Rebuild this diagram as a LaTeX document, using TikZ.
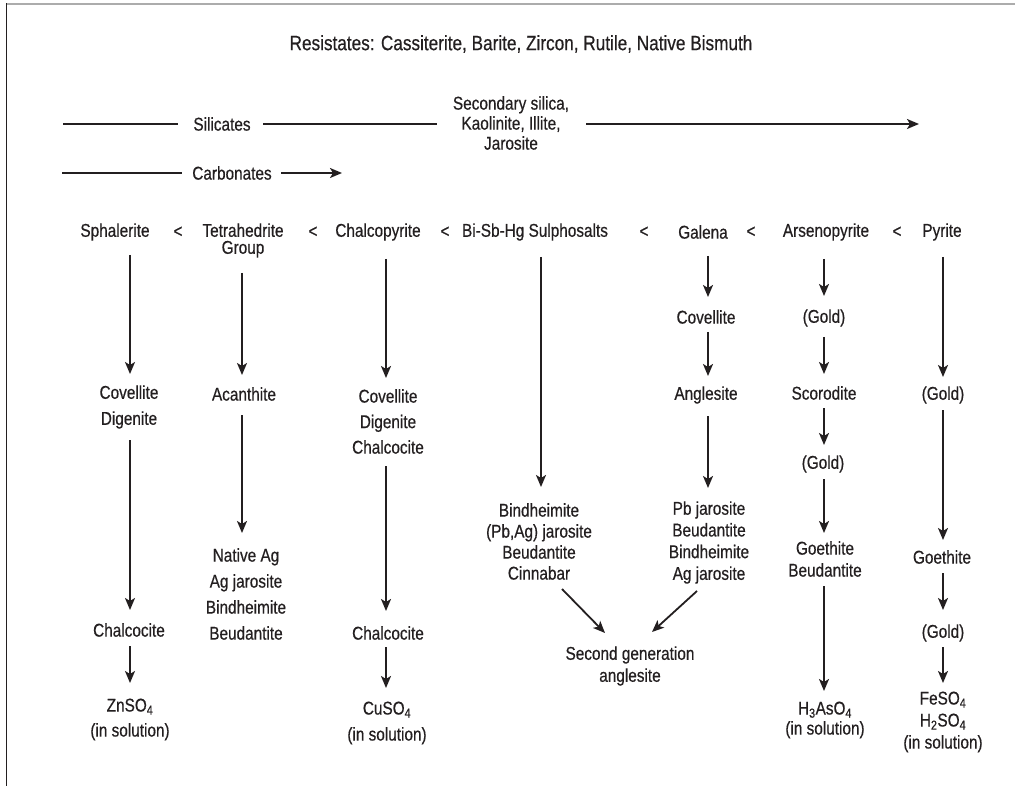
\documentclass[tikz,border=0pt]{standalone}
\usepackage{fontspec}
\setmainfont{Liberation Sans}[FakeStretch=0.83,FakeBold=0.5]
\usetikzlibrary{arrows.meta}
\definecolor{ink}{HTML}{231F20}
\begin{document}
\begin{tikzpicture}[x=1pt,y=-1pt,
  lbl/.style={inner sep=0pt, align=center, text=ink, font=\fontsize{18.5}{21}\selectfont},
  lsp/.style={font=\fontsize{18.5}{#1}\selectfont},
  arr/.style={draw=ink, line width=1.8pt, -{Stealth[length=12pt,width=10pt,inset=3pt]}},
  ln/.style={draw=ink, line width=1.8pt}]
\useasboundingbox (0,0) rectangle (1015,786);
% frame
\draw[gray!65, line width=1.6pt] (6,4) -- (1015,4);
\draw[ink, line width=1.3pt] (6.5,3.5) -- (6.5,786);

% title
\node[lbl, font=\fontsize{20.7}{24}\selectfont] (title) at (521,44) {Resistates: Cassiterite, Barite, Zircon, Rutile, Native Bismuth};

% silicates / carbonates
\coordinate (silL) at (63,124);
\coordinate (silR) at (919,124);
\node[lbl] (sil) at (222,124) {Silicates};
\node[lbl, lsp=20] (sec) at (511,123) {Secondary silica,\\Kaolinite, Illite,\\Jarosite};
\draw[ln, shorten >=44pt] (silL) -- (sil.center);
\draw[ln, shorten <=41pt, shorten >=74pt] (sil.center) -- (sec.center |- silL);
\draw[arr, shorten <=75pt] (sec.center |- silR) -- (silR);

\coordinate (carL) at (62,173);
\coordinate (carR) at (342,173);
\node[lbl] (carb) at (232,173) {Carbonates};
\draw[ln, shorten >=50pt] (carL) -- (carb.center);
\draw[arr, shorten <=49pt] (carb.center) -- (carR);

% primary sulphides
\node[lbl] (sph) at (115,232) {Sphalerite};
\node[lbl] (lt1) at (178,232) {<};
\node[lbl, lsp=17] (tet) at (243,240.5) {Tetrahedrite\\Group};
\node[lbl] (lt2) at (313,232) {<};
\node[lbl] (chp) at (378,232) {Chalcopyrite};
\node[lbl] (lt3) at (445,232) {<};
\node[lbl] (bi) at (535,232) {Bi-Sb-Hg Sulphosalts};
\node[lbl] (lt4) at (644,232) {<};
\node[lbl] (gal) at (703,232) {Galena};
\node[lbl] (lt5) at (751,232) {<};
\node[lbl] (ars) at (826,232) {Arsenopyrite};
\node[lbl] (lt6) at (897,232) {<};
\node[lbl] (pyr) at (942,232) {Pyrite};

% column x references
\coordinate (c1) at (130,0);
\coordinate (c2) at (242,0);
\coordinate (c3) at (386,0);
\coordinate (c4) at (541,0);
\coordinate (c5) at (708,0);
\coordinate (c6) at (824,0);
\coordinate (c7) at (943,0);

% column 1
\node[lbl, lsp=26] (cov1) at (129,407) {Covellite\\Digenite};
\node[lbl] (chc1) at (129,630) {Chalcocite};
\node[lbl, lsp=25] (zn1) at (130,719.5) {ZnSO\textsubscript{4}\\(in solution)};
\draw[arr, shorten <=23pt, shorten >=33pt] (sph.center -| c1) -- (cov1.center -| c1);
\draw[arr, shorten <=33pt, shorten >=20pt] (cov1.center -| c1) -- (chc1.center -| c1);
\draw[arr, shorten <=16pt, shorten >=36.5pt] (chc1.center -| c1) -- (zn1.center -| c1);

% column 2
\node[lbl] (acan) at (244,394) {Acanthite};
\node[lbl, lsp=26] (nag) at (246,594) {Native Ag\\Ag jarosite\\Bindheimite\\Beudantite};
\draw[arr, shorten <=32.5pt, shorten >=19pt] (tet.center -| c2) -- (acan.center -| c2);
\draw[arr, shorten <=21pt, shorten >=61pt] (acan.center -| c2) -- (nag.center -| c2);

% column 3
\node[lbl, lsp=25.5] (cov3) at (388,421.5) {Covellite\\Digenite\\Chalcocite};
\node[lbl] (chc3) at (388,633) {Chalcocite};
\node[lbl, lsp=26] (cu3) at (387,723) {CuSO\textsubscript{4}\\(in solution)};
\draw[arr, shorten <=27pt, shorten >=43.5pt] (chp.center -| c3) -- (cov3.center -| c3);
\draw[arr, shorten <=44.5pt, shorten >=22pt] (cov3.center -| c3) -- (chc3.center -| c3);
\draw[arr, shorten <=14pt, shorten >=35pt] (chc3.center -| c3) -- (cu3.center -| c3);

% column 4
\node[lbl, lsp=21] (bnd) at (539,541.5) {Bindheimite\\(Pb,Ag) jarosite\\Beudantite\\Cinnabar};
\draw[arr, shorten <=25pt, shorten >=54.5pt] (bi.center -| c4) -- (bnd.center -| c4);

% column 5
\node[lbl] (covG) at (706,317) {Covellite};
\node[lbl] (ang) at (706,395) {Anglesite};
\node[lbl, lsp=21.7] (pbj) at (709,542.5) {Pb jarosite\\Beudantite\\Bindheimite\\Ag jarosite};
\draw[arr, shorten <=24pt, shorten >=20pt] (gal.center -| c5) -- (covG.center -| c5);
\draw[arr, shorten <=15pt, shorten >=19pt] (covG.center -| c5) -- (ang.center -| c5);
\draw[arr, shorten <=21pt, shorten >=54.5pt] (ang.center -| c5) -- (pbj.center -| c5);

% second generation anglesite
\node[lbl, lsp=22] (sga) at (630,666) {Second generation\\anglesite};
\draw[arr] ([xshift=23pt,yshift=-47.5pt]bnd.center) -- ([xshift=-25pt,yshift=33pt]sga.center);
\draw[arr] ([xshift=-12pt,yshift=-48.5pt]pbj.center) -- ([xshift=22pt,yshift=34pt]sga.center);

% column 6
\node[lbl] (gold1) at (824,318) {(Gold)};
\node[lbl] (scor) at (824,393) {Scorodite};
\node[lbl] (gold2) at (823,464) {(Gold)};
\node[lbl, lsp=22] (goe6) at (825,559) {Goethite\\Beudantite};
\node[lbl, lsp=20] (h3) at (825,720) {H\textsubscript{3}AsO\textsubscript{4}\\(in solution)};
\draw[arr, shorten <=27pt, shorten >=22pt] (ars.center -| c6) -- (gold1.center -| c6);
\draw[arr, shorten <=19pt, shorten >=19pt] (gold1.center -| c6) -- (scor.center -| c6);
\draw[arr, shorten <=15pt, shorten >=19pt] (scor.center -| c6) -- (gold2.center -| c6);
\draw[arr, shorten <=15pt, shorten >=26pt] (gold2.center -| c6) -- (goe6.center -| c6);
\draw[arr, shorten <=27pt, shorten >=29pt] (goe6.center -| c6) -- (h3.center -| c6);

% column 7
\node[lbl] (goldP) at (943,395) {(Gold)};
\node[lbl] (goeP) at (942,557) {Goethite};
\node[lbl] (gold3) at (943,633) {(Gold)};
\node[lbl, lsp=22] (fe) at (943,722) {FeSO\textsubscript{4}\\H\textsubscript{2}SO\textsubscript{4}\\(in solution)};
\draw[arr, shorten <=25pt, shorten >=18pt] (pyr.center -| c7) -- (goldP.center -| c7);
\draw[arr, shorten <=15pt, shorten >=17pt] (goldP.center -| c7) -- (goeP.center -| c7);
\draw[arr, shorten <=16pt, shorten >=23pt] (goeP.center -| c7) -- (gold3.center -| c7);
\draw[arr, shorten <=14pt, shorten >=39pt] (gold3.center -| c7) -- (fe.center -| c7);
\end{tikzpicture}
\end{document}
